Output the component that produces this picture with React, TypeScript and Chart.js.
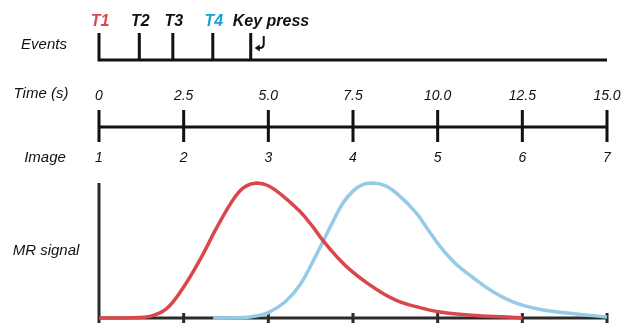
import React, { useEffect, useRef } from "react";
import { Chart, registerables } from "chart.js";

Chart.register(...registerables);

// ---- data ----
const eventLabels = ["T1", "T2", "T3", "T4", "Key press"];
const eventTimes = [0, 1.19, 2.18, 3.36, 4.48];
const eventColors = ["#d9474b", "#111111", "#111111", "#1a9fd9", "#111111"];

const timeTicks = [0, 2.5, 5.0, 7.5, 10.0, 12.5, 15.0];
const timeTickLabels = ["0", "2.5", "5.0", "7.5", "10.0", "12.5", "15.0"];
const imageLabels = ["1", "2", "3", "4", "5", "6", "7"];

const redT = [0, 0.5, 1.0, 1.5, 2.0, 2.5, 3.0, 3.5, 4.0, 4.3, 4.66, 5.0, 5.4, 5.93, 6.3, 6.61, 7.0, 7.4, 7.91, 8.4, 8.89, 9.5, 10.07, 11.0, 12.05, 12.5];
const redV = [0, 0, 0.002, 0.012, 0.07, 0.23, 0.44, 0.68, 0.89, 0.97, 1.0, 0.98, 0.91, 0.79, 0.68, 0.575, 0.46, 0.36, 0.26, 0.18, 0.12, 0.075, 0.044, 0.02, 0.007, 0.002];

const blueT = [3.37, 4.0, 4.5, 5.0, 5.5, 5.93, 6.4, 6.9, 7.2, 7.5, 7.8, 8.09, 8.45, 8.85, 9.36, 9.7, 10.07, 10.5, 11.04, 11.6, 12.22, 13.0, 13.82, 15.0];
const blueV = [0, 0.001, 0.01, 0.04, 0.12, 0.244, 0.46, 0.71, 0.85, 0.94, 0.99, 1.0, 0.98, 0.91, 0.78, 0.66, 0.53, 0.41, 0.3, 0.2, 0.12, 0.065, 0.037, 0.007];

const RED = "#d9474b";
const BLUE = "#94cbe6";

const overlay = {
  id: "overlay",
  beforeDatasetsDraw(chart: any) {
    const ctx = chart.ctx;
    const xs = chart.scales.x;
    const ys = chart.scales.y;
    const x0 = xs.getPixelForValue(0);
    const x1 = xs.getPixelForValue(15);
    const yb = ys.getPixelForValue(0);
    const yt = ys.getPixelForValue(1);
    ctx.save();
    ctx.strokeStyle = "#2b2b2b";
    ctx.lineWidth = 3;
    ctx.beginPath();
    ctx.moveTo(x0, yt);
    ctx.lineTo(x0, 323);
    ctx.moveTo(x0, yb);
    ctx.lineTo(x1, yb);
    timeTicks.forEach((t) => {
      const px = xs.getPixelForValue(t);
      ctx.moveTo(px, yb - 5);
      ctx.lineTo(px, 323);
    });
    ctx.stroke();
    ctx.restore();
  },
  afterDraw(chart: any) {
    const ctx = chart.ctx;
    const xs = chart.scales.x;
    const x0 = xs.getPixelForValue(0);
    const x1 = xs.getPixelForValue(15);
    ctx.save();
    ctx.strokeStyle = "#111111";
    ctx.lineWidth = 3;
    ctx.lineCap = "butt";
    // events row
    const evBase = 60;
    ctx.beginPath();
    ctx.moveTo(x0 - 1.5, evBase);
    ctx.lineTo(x1, evBase);
    eventTimes.forEach((t) => {
      const px = xs.getPixelForValue(t);
      ctx.moveTo(px, 33);
      ctx.lineTo(px, evBase);
    });
    // time axis
    const tl = 127;
    ctx.moveTo(x0, tl);
    ctx.lineTo(x1, tl);
    timeTicks.forEach((t) => {
      const px = xs.getPixelForValue(t);
      ctx.moveTo(px, 110);
      ctx.lineTo(px, 142);
    });
    ctx.stroke();

    // key press arrow
    const kx = xs.getPixelForValue(eventTimes[4]);
    ctx.lineWidth = 2;
    ctx.beginPath();
    ctx.moveTo(kx + 13, 36);
    ctx.lineTo(kx + 13, 44);
    ctx.quadraticCurveTo(kx + 13, 48, kx + 9, 48);
    ctx.lineTo(kx + 7, 48);
    ctx.stroke();
    ctx.fillStyle = "#111111";
    ctx.beginPath();
    ctx.moveTo(kx + 4, 48);
    ctx.lineTo(kx + 9, 44.5);
    ctx.lineTo(kx + 9, 51.5);
    ctx.closePath();
    ctx.fill();

    // event labels
    ctx.textBaseline = "middle";
    ctx.font = "italic bold 16px 'Liberation Sans', Arial, sans-serif";
    eventLabels.forEach((lab, i) => {
      const px = xs.getPixelForValue(eventTimes[i]);
      ctx.fillStyle = eventColors[i];
      if (i === eventLabels.length - 1) {
        ctx.textAlign = "left";
        ctx.fillText(lab, px - 18, 22);
      } else {
        ctx.textAlign = "center";
        ctx.fillText(lab, px + 1, 22);
      }
    });

    // tick labels
    ctx.fillStyle = "#111111";
    ctx.font = "italic 14px 'Liberation Sans', Arial, sans-serif";
    ctx.textAlign = "center";
    timeTicks.forEach((t, i) => {
      const px = xs.getPixelForValue(t);
      ctx.fillText(timeTickLabels[i], px, 96);
      ctx.fillText(imageLabels[i], px, 158);
    });

    // row titles
    ctx.font = "italic 15px 'Liberation Sans', Arial, sans-serif";
    ctx.fillText("Events", 44, 45);
    ctx.fillText("Time (s)", 41, 94);
    ctx.fillText("Image", 45, 158);
    ctx.fillText("MR signal", 46, 251);
    ctx.restore();
  },
};

export default function App() {
  const ref = useRef<HTMLCanvasElement | null>(null);
  useEffect(() => {
    document.body.style.margin = "0";
    const canvas = ref.current!;
    const chart = new Chart(canvas, {
      type: "scatter",
      data: {
        datasets: [
          {
            label: "T1 response",
            data: redT.map((t, i) => ({ x: t, y: redV[i] })),
            showLine: true,
            borderColor: RED,
            borderWidth: 3.5,
            pointRadius: 0,
            tension: 0.4,
            clip: false as any,
          },
          {
            label: "T4 response",
            data: blueT.map((t, i) => ({ x: t, y: blueV[i] })),
            showLine: true,
            borderColor: BLUE,
            borderWidth: 3.5,
            pointRadius: 0,
            tension: 0.4,
            clip: false as any,
          },
        ],
      },
      options: {
        animation: false,
        responsive: false,
        devicePixelRatio: 1,
        layout: { padding: { left: 99, right: 17, top: 183, bottom: 5 } },
        plugins: { legend: { display: false }, tooltip: { enabled: false } },
        scales: {
          x: { type: "linear", min: 0, max: 15, display: false },
          y: { type: "linear", min: 0, max: 1, display: false },
        },
      },
      plugins: [overlay],
    });
    return () => chart.destroy();
  }, []);
  return <canvas ref={ref} width={624} height={323} style={{ display: "block" }} />;
}
